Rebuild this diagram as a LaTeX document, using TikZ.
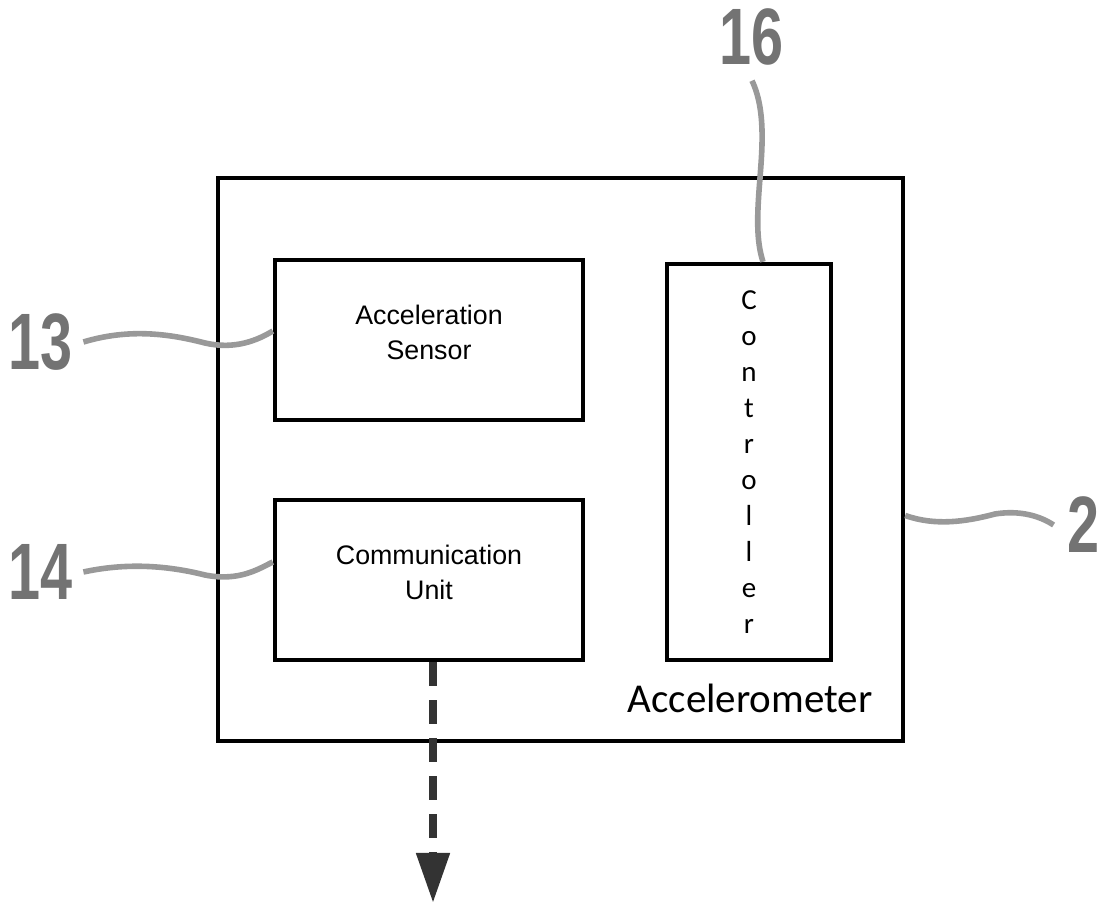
\documentclass[tikz,border=0pt]{standalone}
\usepackage{fontspec}
\setmainfont{Liberation Sans}
\newfontfamily\calfont{Carlito}
\newfontfamily\numfont[FakeStretch=0.72]{Liberation Sans}
\usetikzlibrary{arrows.meta}
\tikzstyle{outerbox} = [rectangle, minimum width=342.5pt, minimum height=281.5pt, inner sep=0pt, draw=black, line width=2.2pt]
\tikzstyle{unit} = [rectangle, minimum width=154pt, minimum height=80pt, inner sep=0pt, align=center, draw=black, line width=2.2pt, font=\fontsize{13.4}{17.5}\selectfont]
\tikzstyle{ctrlbox} = [rectangle, minimum width=82pt, minimum height=198pt, inner sep=0pt, align=center, draw=black, line width=2.2pt, font=\calfont\fontsize{14.5}{18}\selectfont]
\tikzstyle{refnum} = [text=black!55, font=\numfont\bfseries\fontsize{40}{40}\selectfont, inner sep=0pt]
\tikzstyle{leader} = [draw=black!40, line width=2.8pt]
\tikzstyle{arrow} = [line width=4pt, draw=black!80, dash pattern=on 12pt off 7pt, -{Triangle[length=25pt, width=16pt]}]

\begin{document}
\begin{tikzpicture}[x=0.5pt, y=-0.5pt]
\useasboundingbox (0,0) rectangle (1100,903);

\node at (560.5, 459.5) (accel) [outerbox] {};
\node at (429, 340) (sensor) [unit] {Acceleration\\Sensor\\[-10pt]};
\node at (429, 580) (comm) [unit] {Communication\\Unit\\[-10pt]};
\node at (749, 462) (ctrl) [ctrlbox] {C\\o\\n\\t\\r\\o\\l\\l\\e\\r};
\node at (750, 698) (accname) [font=\calfont\fontsize{20.5}{20.5}\selectfont] {Accelerometer};

\node at (41, 342) (n13) [refnum] {13};
\node at (41, 572) (n14) [refnum] {14};
\node at (752, 37) (n16) [refnum] {16};
\node at (1084, 525) (n2) [refnum] {2};

\coordinate (out) at (433, 903);

\draw [leader] ([xshift=5pt]n13.east) .. controls (130, 328) and (170, 334) .. (205, 343)
  .. controls (235, 350) and (258, 340) .. ([yshift=4.5pt]sensor.west);
\draw [leader] ([xshift=5pt]n14.east) .. controls (125, 563) and (165, 565) .. (205, 575)
  .. controls (240, 582) and (260, 568) .. ([yshift=9pt]comm.west);
\draw [leader] ([yshift=-7.5pt]n16.south) .. controls (766, 110) and (762, 150) .. (760, 178)
  .. controls (757, 215) and (756, 240) .. ([xshift=7pt]ctrl.north);
\draw [leader] ([yshift=-28pt]accel.east) .. controls (935, 526) and (965, 522) .. (995, 514)
  .. controls (1020, 510) and (1040, 516) .. ([xshift=-7pt]n2.west);

\draw [arrow] (comm.south -| out) -- (out);

\end{tikzpicture}
\end{document}
